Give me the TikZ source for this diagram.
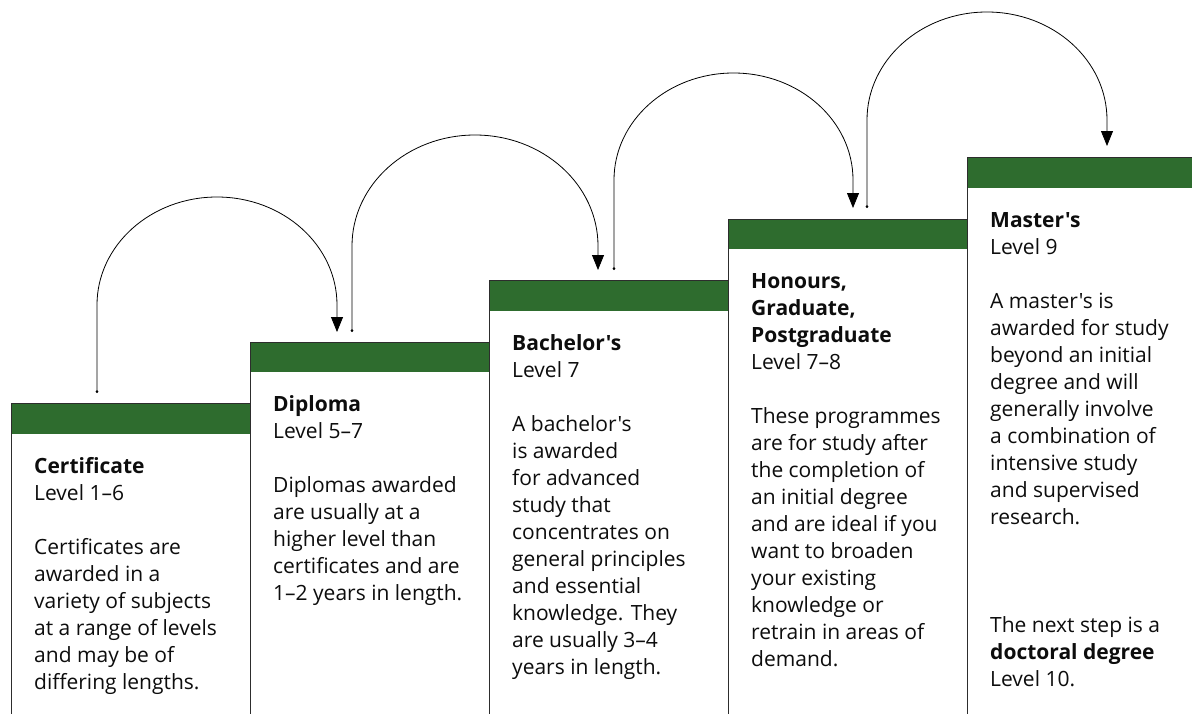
\documentclass[tikz,border=0pt]{standalone}
\usepackage{fontspec}
\newfontfamily\osans{Open Sans}
\usetikzlibrary{arrows.meta}
\definecolor{stepgreen}{RGB}{46,108,46}
\definecolor{edgegray}{RGB}{45,45,45}
\begin{document}
\begin{tikzpicture}[x=1pt,y=-1pt,
  stepbox/.style={draw=edgegray, line width=1.2pt, fill=white, anchor=north west,
    minimum width=239pt, minimum height=640pt, inner sep=0pt,
    path picture={\fill[stepgreen] (path picture bounding box.north west) rectangle ++(239,30);}},
  txt/.style={anchor=base west, inner sep=0pt, text=black!95, font=\osans\fontsize{21}{27}\selectfont},
  conn/.style={line width=0.8pt, {Circle[length=2.6pt]}-{Triangle[width=12pt,length=15pt]}}]
\useasboundingbox (0,0) rectangle (1192,713);
\clip (0,0) rectangle (1192,713);
% columns
\node[stepbox] (c1) at (11,403) {};
\node[stepbox] (c2) at (250,341.5) {};
\node[stepbox] (c3) at (489,280) {};
\node[stepbox] (c4) at (728,218.5) {};
\node[stepbox] (c5) at (967,157) {};
% texts
\node[txt] (t1) at (34,473) {\parbox[t]{260pt}{\textbf{Certificate}\\Level 1–6\\[27pt]Certificates are\\awarded in a\\variety of subjects\\at a range of levels\\and may be of\\differing lengths.}};
\node[txt] (t2) at (273,411.5) {\parbox[t]{260pt}{\textbf{Diploma}\\Level 5–7\\[27pt]Diplomas awarded\\are usually at a\\higher level than\\certificates and are\\1–2 years in length.}};
\node[txt] (t3) at (512,350) {\parbox[t]{260pt}{\textbf{Bachelor's}\\Level 7\\[27pt]A bachelor's\\is awarded\\for advanced\\study that\\concentrates on\\general principles\\and essential\\knowledge. They\\are usually 3–4\\years in length.}};
\node[txt] (t4) at (751,288.5) {\parbox[t]{260pt}{\textbf{Honours,}\\\textbf{Graduate,}\\\textbf{Postgraduate}\\Level 7–8\\[27pt]These programmes\\are for study after\\the completion of\\an initial degree\\and are ideal if you\\want to broaden\\your existing\\knowledge or\\retrain in areas of\\demand.}};
\node[txt] (t5) at (990,227) {\parbox[t]{260pt}{\textbf{Master's}\\Level 9\\[27pt]A master's is\\awarded for study\\beyond an initial\\degree and will\\generally involve\\a combination of\\intensive study\\and supervised\\research.\\[81pt]The next step is a\\\textbf{doctoral degree}\\Level 10.}};
% connectors
\coordinate (s1) at (97,393);    \coordinate (e1) at (337,332);
\coordinate (s2) at (352,332);   \coordinate (e2) at (598,270);
\coordinate (s3) at (614,270);   \coordinate (e3) at (853,208);
\coordinate (s4) at (867,208);   \coordinate (e4) at (1107,146);
\draw[conn] (s1) -- ++(0,-88) arc[start angle=180, end angle=0, x radius=120pt, y radius=108pt] -- (e1);
\draw[conn] (s2) -- ++(0,-86) arc[start angle=180, end angle=0, x radius=123pt, y radius=111pt] -- (e2);
\draw[conn] (s3) -- ++(0,-90) arc[start angle=180, end angle=0, x radius=119.5pt, y radius=107pt] -- (e3);
\draw[conn] (s4) -- ++(0,-88) arc[start angle=180, end angle=0, x radius=120pt, y radius=108pt] -- (e4);
\end{tikzpicture}
\end{document}
